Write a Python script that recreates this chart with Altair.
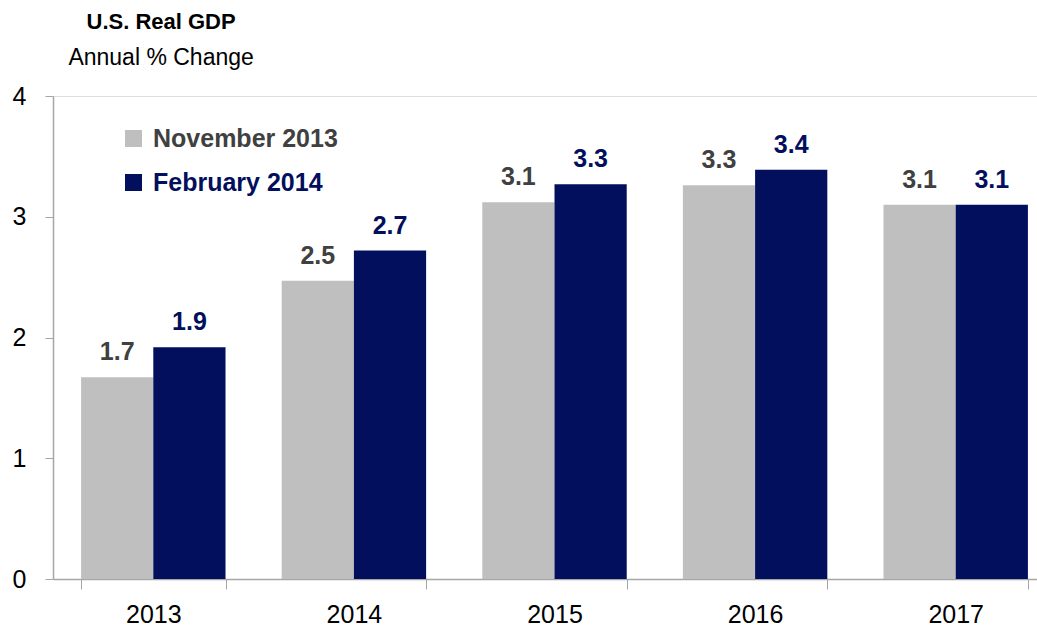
import altair as alt
import pandas as pd

years = ["2013", "2014", "2015", "2016", "2017"]
series_names = ["November 2013", "February 2014"]
nov_2013 = [1.67, 2.47, 3.12, 3.26, 3.10]
feb_2014 = [1.92, 2.72, 3.27, 3.39, 3.10]
y_ticks = [0, 1, 2, 3, 4]

GRAY = "#BFBFBF"
NAVY = "#020F5C"
DARK = "#404040"
FONT = "Liberation Sans"

rows = []
for i, y in enumerate(years):
    rows.append({"year": y, "series": series_names[0], "value": nov_2013[i]})
    rows.append({"year": y, "series": series_names[1], "value": feb_2014[i]})
df = pd.DataFrame(rows)

x_enc = alt.X(
    "year:N",
    sort=years,
    scale=alt.Scale(paddingInner=0.28, paddingOuter=0.14, range=[0, 1003]),
    axis=alt.Axis(
        title=None, labelAngle=0, labelFontSize=25, labelFont=FONT, labelColor="#000000",
        labelPadding=13, tickBand="extent", tickSize=10, tickColor="#A6A6A6",
        domainColor="#A6A6A6", domainWidth=1.5, grid=False,
    ),
)
y_enc = alt.Y(
    "value:Q",
    scale=alt.Scale(domain=[0, 4], nice=False),
    axis=alt.Axis(
        title=None, values=y_ticks, format="d", labelFontSize=25, labelFont=FONT,
        labelColor="#000000", labelPadding=19, tickSize=8, tickColor="#A6A6A6",
        domainColor="#A6A6A6", domainWidth=1.5, grid=False,
    ),
)
xoff = alt.XOffset("series:N", sort=series_names)

bars = alt.Chart(df).mark_bar(stroke=None).encode(
    x=x_enc,
    y=y_enc,
    xOffset=xoff,
    color=alt.Color(
        "series:N",
        sort=series_names,
        scale=alt.Scale(domain=series_names, range=[GRAY, NAVY]),
        legend=alt.Legend(
            title=None, orient="none", legendX=68, legendY=30,
            symbolType="square", symbolSize=289, symbolStrokeWidth=0,
            labelFontSize=25, labelFont=FONT, labelFontWeight="bold", labelLimit=400,
            labelColor={"expr": "datum.label == 'February 2014' ? '%s' : '%s'" % (NAVY, DARK)},
            rowPadding=18, labelOffset=7,
        ),
    ),
)

labels = alt.Chart(df).mark_text(
    baseline="bottom", dy=-12, fontSize=25, font=FONT, fontWeight="bold"
).encode(
    x=alt.X("year:N", sort=years),
    y=alt.Y("value:Q"),
    xOffset=xoff,
    text=alt.Text("value:Q", format=".1f"),
    color=alt.Color("series:N", sort=series_names,
                    scale=alt.Scale(domain=series_names, range=[DARK, NAVY]), legend=None),
)

chart = alt.layer(bars, labels).resolve_scale(color="independent").properties(
    width=984,
    height=483,
    title=alt.TitleParams(
        text="U.S. Real GDP",
        subtitle="Annual % Change",
        anchor="start",
        align="center",
        dx=149,
        offset=13,
        font=FONT,
        fontSize=22,
        fontWeight="bold",
        color="#000000",
        subtitleFont=FONT,
        subtitleFontSize=23,
        subtitleColor="#000000",
        subtitlePadding=13,
    ),
    autosize=alt.AutoSizeParams(type="none"),
    padding={"left": 53, "top": 96, "right": 0, "bottom": 49},
).configure_view(stroke=None).configure(background="white")

chart.save("out.html", embed_options={"renderer": "svg", "actions": False})
